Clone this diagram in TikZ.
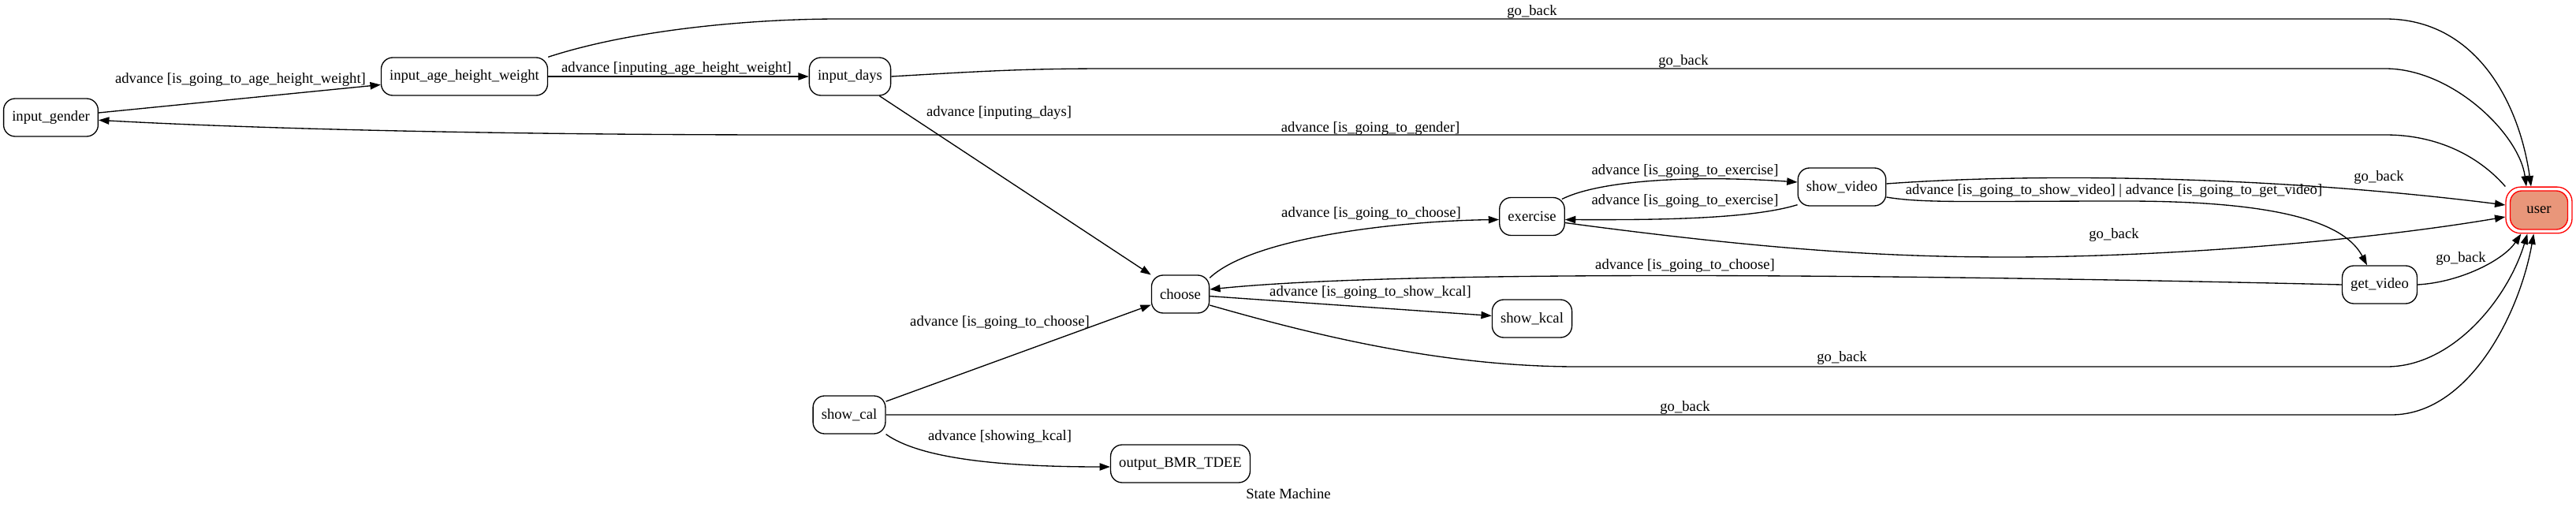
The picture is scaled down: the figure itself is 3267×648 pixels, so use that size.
\documentclass[tikz,border=0pt]{standalone}
\usepackage{fontspec}
\setmainfont{Liberation Serif}
\usetikzlibrary{arrows.meta}
\definecolor{dsalmon}{RGB}{233,150,122}
\begin{document}
\begin{tikzpicture}[x=0.75pt,y=-0.75pt,
  font=\fontsize{14pt}{16pt}\selectfont,
  state/.style={draw, line width=1pt, rounded corners=11pt, minimum height=36pt, minimum width=54pt, inner xsep=8pt, inner ysep=2pt},
  lbl/.style={inner sep=0pt},
  edge/.style={draw, line width=1pt, -{Triangle[length=10pt,width=7pt]}}]
\useasboundingbox (0,0) rectangle (3267,648);
% nodes
\node[state] (ig) at (64.5,149) {input\_gender};
\node[state] (iahw) at (589,97) {input\_age\_height\_weight};
\node[state] (id) at (1078,97) {input\_days};
\node[state] (choose) at (1497,373) {choose};
\node[state] (ex) at (1943,274.5) {exercise};
\node[state] (sk) at (1943,404) {show\_kcal};
\node[state] (sv) at (2336,237) {show\_video};
\node[state] (gv) at (3018,361) {get\_video};
\node[state] (sc) at (1077,526) {show\_cal};
\node[state] (obt) at (1497,588) {output\_BMR\_TDEE};
\node[state, draw=red, fill=dsalmon, minimum width=54.75pt, minimum height=36.75pt] (userin) at (3220,266.5) {user};
\node[draw=red, line width=1pt, rounded corners=14pt, minimum width=63pt, minimum height=44pt] (user) at (3220,266.5) {};
\node[lbl] (title) at (1634,626) {State Machine};
% edges
\draw[edge] (ig) -- (iahw);
\draw[edge] (iahw) -- (id);
\draw[edge] (iahw.north east) .. controls (800,38) and (950,24) .. (1065,24) -- (3025,24) .. controls (3140,24) and (3195,130) .. ([xshift=-7.5pt]user.north);
\draw[edge] (id.east) .. controls (1250,90) and (1300,87) .. (1409,87) -- (3025,87) .. controls (3110,87) and (3195,170) .. ([xshift=-12pt]user.north);
\draw[edge] (user.north west) .. controls (3150,205) and (3100,171) .. (3025,171) -- (1000,171) .. controls (600,171) and (300,162) .. (ig);
\draw[edge] (id) -- (choose);
\draw[edge] ([yshift=-3pt]choose.north east) .. controls (1590,300) and (1780,280) .. ([yshift=-3pt]ex.west);
\draw[edge] (choose) -- (sk);
\draw[edge] ([yshift=-10.5pt]choose.east) .. controls (1650,420) and (1820,465) .. (2000,465) -- (3027,465) .. controls (3110,465) and (3180,380) .. ([xshift=-11pt]user.south);
\draw[edge] (sc) -- (choose);
\draw[edge] (sc.south east) .. controls (1165,580) and (1260,592) .. ([yshift=-3pt]obt.west);
\draw[edge] (sc.east) -- (3033,526) .. controls (3130,526) and (3195,400) .. ([xshift=-5pt]user.south);
\draw[edge] ([shift={(-3pt,-2pt)}]ex.north east) .. controls (2030,228) and (2150,222) .. ([yshift=4.5pt]sv.west);
\draw[edge] ([yshift=1.5pt]sv.south west) .. controls (2220,278) and (2100,279) .. ([yshift=-3pt]ex.east);
\draw[edge] ([yshift=-6pt]ex.east) .. controls (2250,318) and (2400,326) .. (2547,326) .. controls (2750,326) and (3000,305) .. ([yshift=-6.4pt]user.west);
\draw[edge] ([yshift=3pt]sv.east) .. controls (2600,218) and (2900,225) .. ([yshift=4.9pt]user.west);
\draw[edge] ([yshift=-9.75pt]sv.east) .. controls (2440,258) and (2500,255) .. (2695,255) .. controls (2900,255) and (2975,285) .. ([xshift=-12pt]gv.north);
\draw[edge] (gv.west) .. controls (2500,350) and (1800,340) .. ([yshift=4.5pt]choose.east);
\draw[edge] (gv.east) .. controls (3120,358) and (3175,330) .. ([xshift=-17pt]user.south);
% labels
\node[lbl] (l1) at (305,101) {advance [is\_going\_to\_age\_height\_weight]};
\node[lbl] (l2) at (858,87) {advance [inputing\_age\_height\_weight]};
\node[lbl] (l3) at (1943,15) {go\_back};
\node[lbl] (l4) at (2135,78) {go\_back};
\node[lbl] (l5) at (1738,163) {advance [is\_going\_to\_gender]};
\node[lbl] (l6) at (1267,143) {advance [inputing\_days]};
\node[lbl] (l7) at (1739,271) {advance [is\_going\_to\_choose]};
\node[lbl] (l8) at (1738,371) {advance [is\_going\_to\_show\_kcal]};
\node[lbl] (l9) at (1268,409) {advance [is\_going\_to\_choose]};
\node[lbl] (l10) at (2336,454) {go\_back};
\node[lbl] (l11) at (1268,554) {advance [showing\_kcal]};
\node[lbl] (l12) at (2137,517) {go\_back};
\node[lbl] (l13) at (2137,217) {advance [is\_going\_to\_exercise]};
\node[lbl] (l14) at (2137,255) {advance [is\_going\_to\_exercise]};
\node[lbl] (l15) at (2681,298) {go\_back};
\node[lbl] (l16) at (3017,225) {go\_back};
\node[lbl] (l17) at (2681,242) {advance [is\_going\_to\_show\_video] | advance [is\_going\_to\_get\_video]};
\node[lbl] (l18) at (2137,337) {advance [is\_going\_to\_choose]};
\node[lbl] (l19) at (3121,328) {go\_back};
\end{tikzpicture}
\end{document}
